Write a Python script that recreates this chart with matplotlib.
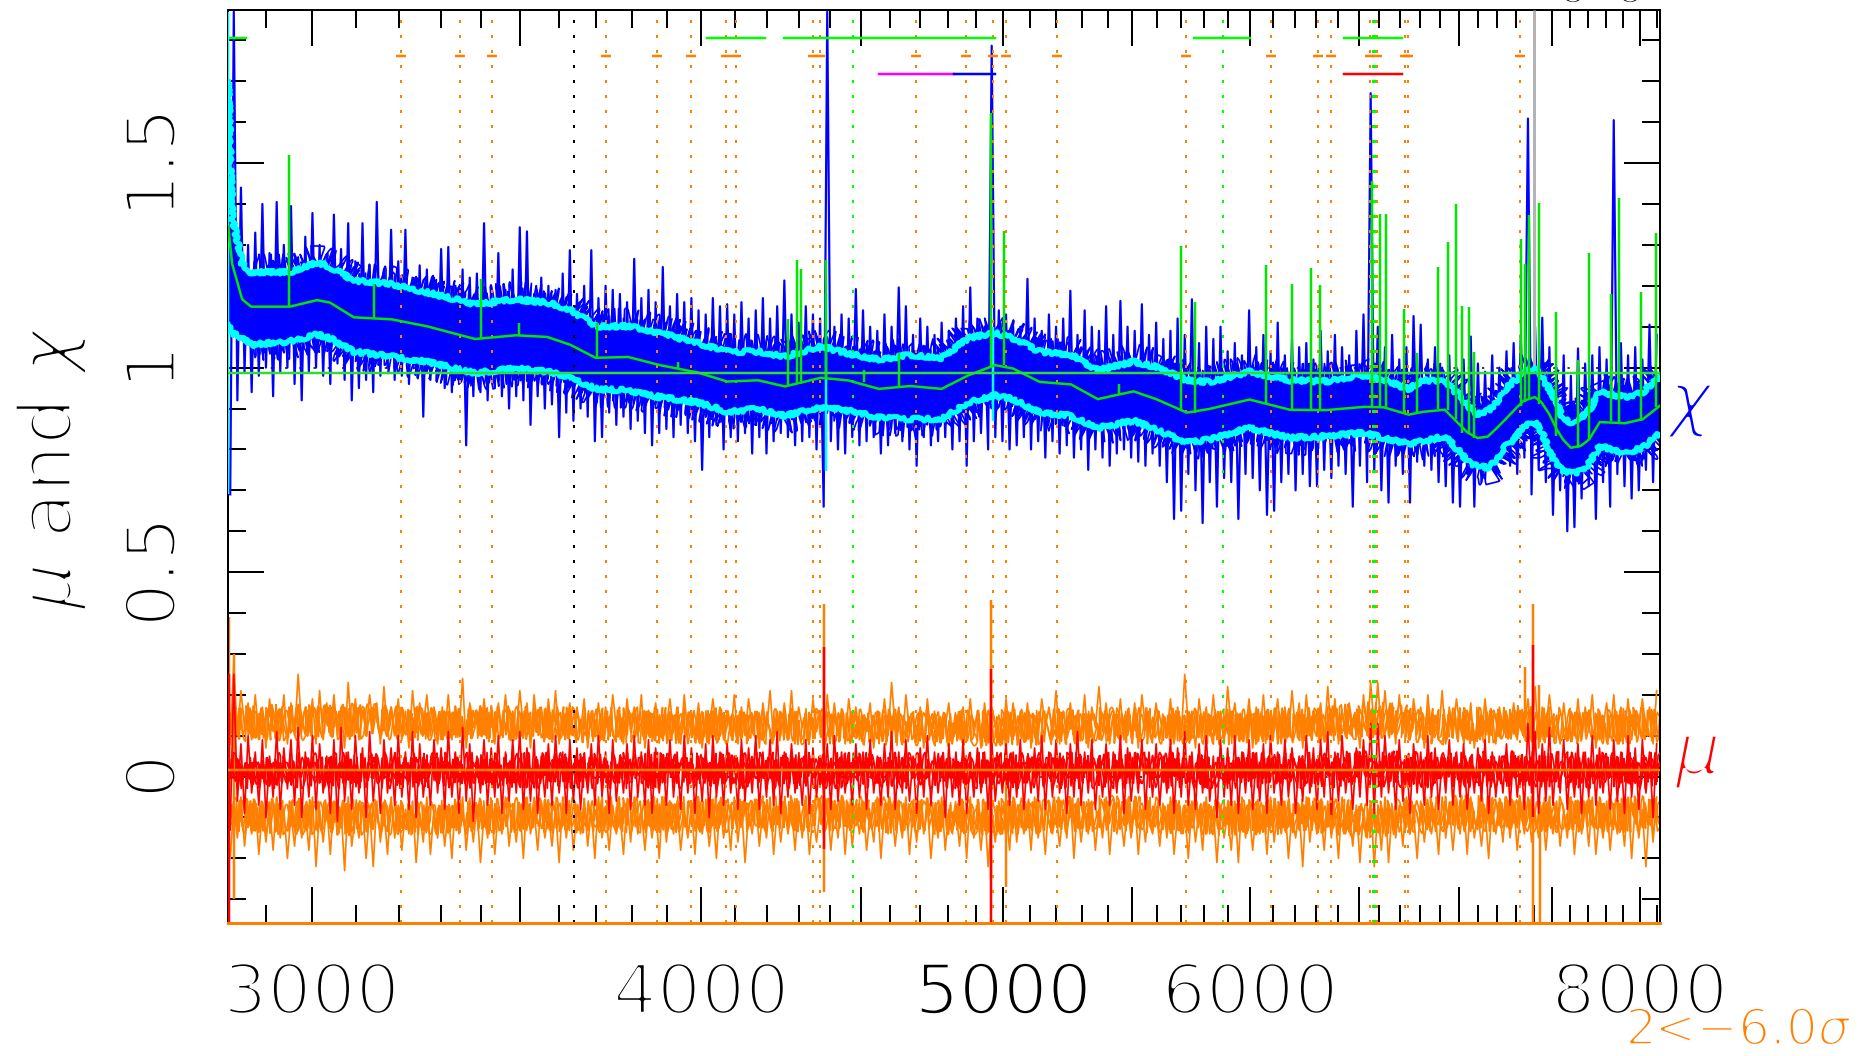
import numpy as np
import matplotlib
matplotlib.use("Agg")
import matplotlib.pyplot as plt
import matplotlib.patheffects as pe
from matplotlib.ticker import FixedLocator, FixedFormatter, NullFormatter

knot_wave = [2821, 2829, 2850, 2869, 2952, 3012, 3041, 3095, 3183, 3267, 3385, 3488, 3570, 3631,
             3700, 3790, 3880, 3990, 4077, 4172, 4255, 4369, 4457, 4561, 4668, 4777, 4872, 4969,
             5035, 5136, 5256, 5361, 5505, 5597, 5726, 5822, 5997, 6178, 6344, 6524, 6621, 6745,
             6817, 6927, 7002, 7045, 7096, 7149, 7191, 7245, 7306, 7342, 7403, 7440, 7483, 7519,
             7559, 7603, 7660, 7705, 7767, 7912, 8018, 8120]
chi_up = [1.70, 1.370, 1.254, 1.233, 1.233, 1.258, 1.246, 1.213, 1.204, 1.184, 1.155, 1.167, 1.159, 1.142,
          1.101, 1.101, 1.085, 1.060, 1.039, 1.039, 1.027, 1.052, 1.035, 1.019, 1.031, 1.024, 1.072, 1.085,
          1.072, 1.039, 1.031, 0.994, 1.014, 1.002, 0.969, 0.965, 0.990, 0.969, 0.966, 0.981, 0.969, 0.948,
          0.969, 0.965, 0.932, 0.907, 0.886, 0.894, 0.911, 0.948, 0.973, 0.990, 0.998, 0.977, 0.948, 0.919,
          0.874, 0.866, 0.878, 0.895, 0.940, 0.928, 0.940, 0.977]
chi_mean = [1.345, 1.254, 1.167, 1.149, 1.149, 1.165, 1.159, 1.123, 1.118, 1.101, 1.070, 1.079, 1.075, 1.056,
            1.024, 1.026, 1.006, 0.988, 0.966, 0.969, 0.954, 0.975, 0.969, 0.948, 0.955, 0.948, 0.981, 1.006,
            0.998, 0.965, 0.959, 0.923, 0.942, 0.923, 0.890, 0.899, 0.922, 0.897, 0.896, 0.904, 0.903, 0.885,
            0.892, 0.897, 0.861, 0.841, 0.828, 0.831, 0.849, 0.874, 0.903, 0.919, 0.928, 0.915, 0.886, 0.853,
            0.824, 0.804, 0.809, 0.824, 0.867, 0.864, 0.874, 0.907]
chi_lo = [1.105, 1.085, 1.072, 1.056, 1.064, 1.081, 1.072, 1.039, 1.027, 1.014, 0.987, 0.998, 0.990, 0.977,
          0.948, 0.944, 0.928, 0.915, 0.892, 0.899, 0.882, 0.903, 0.895, 0.878, 0.874, 0.874, 0.915, 0.932,
          0.923, 0.890, 0.882, 0.853, 0.870, 0.849, 0.816, 0.824, 0.853, 0.828, 0.832, 0.841, 0.828, 0.814,
          0.820, 0.832, 0.795, 0.770, 0.758, 0.756, 0.770, 0.808, 0.832, 0.856, 0.866, 0.845, 0.795, 0.766,
          0.746, 0.742, 0.746, 0.766, 0.808, 0.791, 0.804, 0.841]

# centres of the mu error bands and of mu itself
band_wave = [2821, 3100, 3500, 3900, 4400, 4900, 5400, 5900, 6300, 6570, 6900, 7350, 7700, 8120]
sigma_hi_mid = [0.130, 0.135, 0.128, 0.125, 0.122, 0.118, 0.125, 0.122, 0.125, 0.140, 0.122, 0.130, 0.120, 0.128]
sigma_lo_mid = [-0.095, -0.100, -0.095, -0.093, -0.090, -0.100, -0.090, -0.100, -0.095, -0.105, -0.090, -0.090, -0.095, -0.090]
mu_mid = [0.015, 0.015, 0.015, 0.015, 0.015, 0.015, 0.015, 0.015, 0.015, 0.020, 0.015, 0.020, 0.015, 0.015]

# ── Noisy spectra: lower and upper excursions on a log spaced grid ───────────
chi_top = [1.87, 1.44, 1.30, 1.33, 1.40, 1.28, 1.405, 1.30, 1.395, 1.27,
           1.32, 1.378, 1.30, 1.27, 1.374, 1.29, 1.353, 1.26, 1.353, 1.25,
           1.405, 1.24, 1.337, 1.26, 1.337, 1.22, 1.25, 1.24, 1.22, 1.29,
           1.295, 1.20, 1.24, 1.22, 1.23, 1.353, 1.20, 1.28, 1.19, 1.24,
           1.343, 1.333, 1.18, 1.22, 1.20, 1.19, 1.23, 1.287, 1.18, 1.20,
           1.287, 1.17, 1.20, 1.19, 1.18, 1.16, 1.266, 1.17, 1.19, 1.16,
           1.246, 1.15, 1.18, 1.16, 1.17, 1.14, 1.13, 1.17, 1.15, 1.155,
           1.13, 1.16, 1.12, 1.14, 1.17, 1.12, 1.15, 1.213, 1.13, 1.11,
           1.15, 1.13, 1.12, 1.87, 1.10, 1.13, 1.12, 1.192, 1.14, 1.10,
           1.09, 1.13, 1.10, 1.196, 1.15, 1.08, 1.12, 1.10, 1.08, 1.11,
           1.09, 1.12, 1.15, 1.196, 1.12, 1.10, 1.787, 1.14, 1.13, 1.10,
           1.10, 1.217, 1.12, 1.09, 1.13, 1.10, 1.12, 1.188, 1.08, 1.14,
           1.10, 1.09, 1.15, 1.08, 1.163, 1.10, 1.09, 1.155, 1.08, 1.11,
           1.07, 1.09, 1.12, 1.08, 1.167, 1.06, 1.10, 1.07, 1.10, 1.04,
           1.06, 1.03, 1.14, 1.05, 1.08, 1.04, 1.11, 1.03, 1.07, 1.05,
           1.06, 1.02, 1.09, 1.04, 1.08, 1.05, 1.03, 1.09, 1.13, 1.671,
           1.10, 1.05, 1.08, 1.02, 1.05, 1.126, 1.105, 1.02, 1.05, 1.00,
           1.03, 1.00, 1.02, 1.076, 1.01, 0.99, 1.03, 1.00, 1.04, 1.06,
           1.08, 1.609, 1.10, 1.122, 1.05, 1.00, 1.03, 0.98, 1.047, 1.01,
           1.03, 1.05, 1.02, 1.605, 1.06, 1.03, 1.05, 1.02, 1.105, 1.08]
chi_bot = [0.69, 0.92, 0.99, 0.94, 0.98, 1.00, 0.93, 0.99, 1.00, 0.96,
           0.92, 0.99, 1.00, 0.98, 0.96, 1.01, 0.97, 0.92, 0.95, 0.97,
           0.94, 0.98, 1.00, 0.97, 0.98, 0.96, 0.99, 0.88, 0.97, 0.98,
           0.95, 0.94, 0.96, 0.81, 0.93, 0.94, 0.92, 0.95, 0.93, 0.90,
           0.93, 0.92, 0.86, 0.93, 0.90, 0.91, 0.83, 0.89, 0.87, 0.90,
           0.88, 0.82, 0.83, 0.89, 0.86, 0.88, 0.85, 0.87, 0.84, 0.81,
           0.84, 0.85, 0.83, 0.86, 0.84, 0.82, 0.75, 0.83, 0.86, 0.80,
           0.83, 0.82, 0.84, 0.79, 0.83, 0.79, 0.82, 0.84, 0.83, 0.81,
           0.82, 0.83, 0.80, 0.66, 0.82, 0.80, 0.79, 0.83, 0.81, 0.82,
           0.83, 0.79, 0.81, 0.84, 0.82, 0.80, 0.76, 0.83, 0.81, 0.82,
           0.83, 0.80, 0.82, 0.76, 0.82, 0.84, 0.80, 0.83, 0.82, 0.80,
           0.81, 0.83, 0.80, 0.82, 0.78, 0.82, 0.79, 0.81, 0.78, 0.80,
           0.75, 0.80, 0.78, 0.76, 0.79, 0.80, 0.78, 0.77, 0.76, 0.79,
           0.76, 0.72, 0.63, 0.65, 0.74, 0.70, 0.62, 0.72, 0.66, 0.73,
           0.72, 0.63, 0.74, 0.73, 0.70, 0.64, 0.65, 0.72, 0.74, 0.70,
           0.74, 0.71, 0.71, 0.75, 0.73, 0.76, 0.74, 0.66, 0.76, 0.72,
           0.75, 0.70, 0.67, 0.76, 0.74, 0.67, 0.77, 0.76, 0.75, 0.72,
           0.71, 0.67, 0.66, 0.74, 0.66, 0.72, 0.76, 0.74, 0.78, 0.76,
           0.74, 0.78, 0.69, 0.75, 0.72, 0.64, 0.70, 0.60, 0.61, 0.68,
           0.71, 0.63, 0.72, 0.66, 0.74, 0.71, 0.68, 0.70, 0.75, 0.72]
sigma_hi_top = [0.28, 0.21, 0.18, 0.20, 0.17, 0.19, 0.16, 0.20, 0.18, 0.25,
                0.17, 0.19, 0.21, 0.18, 0.20, 0.17, 0.23, 0.19, 0.16, 0.20,
                0.18, 0.22, 0.17, 0.19, 0.16, 0.21, 0.18, 0.20, 0.17, 0.16,
                0.20, 0.17, 0.24, 0.18, 0.16, 0.19, 0.17, 0.18, 0.20, 0.16,
                0.21, 0.18, 0.20, 0.17, 0.19, 0.21, 0.16, 0.18, 0.17, 0.19,
                0.16, 0.18, 0.17, 0.20, 0.15, 0.19, 0.17, 0.20, 0.16, 0.18,
                0.15, 0.19, 0.17, 0.20, 0.16, 0.18, 0.15, 0.19, 0.17, 0.16,
                0.20, 0.17, 0.19, 0.15, 0.18, 0.21, 0.16, 0.18, 0.21, 0.17,
                0.15, 0.19, 0.16, 0.20, 0.18, 0.16, 0.19, 0.17, 0.15, 0.18,
                0.16, 0.19, 0.23, 0.17, 0.20, 0.15, 0.17, 0.19, 0.16, 0.14,
                0.18, 0.15, 0.17, 0.19, 0.16, 0.18, 0.17, 0.15, 0.19, 0.18,
                0.16, 0.18, 0.15, 0.19, 0.17, 0.21, 0.16, 0.18, 0.15, 0.20,
                0.17, 0.22, 0.18, 0.15, 0.19, 0.16, 0.18, 0.20, 0.16, 0.18,
                0.15, 0.19, 0.17, 0.25, 0.16, 0.19, 0.17, 0.20, 0.16, 0.22,
                0.18, 0.15, 0.19, 0.17, 0.20, 0.16, 0.19, 0.17, 0.21, 0.18,
                0.20, 0.16, 0.18, 0.22, 0.19, 0.16, 0.18, 0.15, 0.20, 0.23,
                0.23, 0.21, 0.18, 0.20, 0.16, 0.19, 0.17, 0.20, 0.15, 0.21,
                0.17, 0.19, 0.15, 0.18, 0.16, 0.19, 0.15, 0.17, 0.14, 0.18,
                0.16, 0.19, 0.22, 0.17, 0.20, 0.15, 0.18, 0.16, 0.19, 0.17,
                0.20, 0.16, 0.18, 0.20, 0.17, 0.19, 0.16, 0.19, 0.17, 0.21]
sigma_hi_bot = [0.08, 0.10, 0.12, 0.09, 0.10, 0.07, 0.11, 0.10, 0.08, 0.10,
                0.12, 0.11, 0.08, 0.09, 0.10, 0.10, 0.07, 0.10, 0.09, 0.11,
                0.12, 0.08, 0.10, 0.10, 0.09, 0.07, 0.11, 0.12, 0.10, 0.08,
                0.10, 0.09, 0.11, 0.07, 0.12, 0.10, 0.10, 0.08, 0.11, 0.09,
                0.10, 0.12, 0.07, 0.11, 0.09, 0.10, 0.08, 0.12, 0.10, 0.11,
                0.07, 0.10, 0.09, 0.10, 0.12, 0.08, 0.11, 0.10, 0.07, 0.10,
                0.09, 0.12, 0.11, 0.08, 0.10, 0.10, 0.07, 0.11, 0.12, 0.09,
                0.10, 0.08, 0.10, 0.12, 0.07, 0.11, 0.09, 0.10, 0.10, 0.08,
                0.12, 0.09, 0.11, 0.06, 0.10, 0.10, 0.08, 0.12, 0.09, 0.11,
                0.07, 0.10, 0.10, 0.12, 0.08, 0.11, 0.09, 0.07, 0.10, 0.10,
                0.12, 0.08, 0.11, 0.09, 0.10, 0.07, 0.10, 0.12, 0.08, 0.11,
                0.10, 0.09, 0.07, 0.10, 0.12, 0.11, 0.08, 0.10, 0.09, 0.10,
                0.07, 0.12, 0.11, 0.08, 0.10, 0.09, 0.10, 0.07, 0.12, 0.11,
                0.09, 0.10, 0.08, 0.10, 0.12, 0.07, 0.11, 0.10, 0.09, 0.08,
                0.12, 0.10, 0.11, 0.07, 0.10, 0.09, 0.12, 0.08, 0.10, 0.11,
                0.07, 0.10, 0.12, 0.09, 0.10, 0.08, 0.11, 0.12, 0.07, 0.10,
                0.12, 0.10, 0.10, 0.08, 0.11, 0.09, 0.12, 0.07, 0.10, 0.10,
                0.08, 0.11, 0.12, 0.09, 0.07, 0.10, 0.10, 0.08, 0.12, 0.11,
                0.09, 0.12, 0.10, 0.07, 0.11, 0.12, 0.08, 0.10, 0.10, 0.09,
                0.11, 0.07, 0.12, 0.10, 0.08, 0.10, 0.09, 0.11, 0.12, 0.08]
mu_top = [0.25, 0.08, 0.10, 0.06, 0.09, 0.05, 0.11, 0.07, 0.09, 0.12,
          0.06, 0.10, 0.08, 0.05, 0.09, 0.12, 0.06, 0.10, 0.07, 0.11,
          0.05, 0.09, 0.07, 0.10, 0.06, 0.11, 0.08, 0.05, 0.09, 0.07,
          0.11, 0.06, 0.12, 0.08, 0.05, 0.09, 0.07, 0.10, 0.06, 0.09,
          0.11, 0.07, 0.09, 0.05, 0.08, 0.10, 0.06, 0.09, 0.07, 0.05,
          0.08, 0.10, 0.06, 0.09, 0.05, 0.08, 0.10, 0.06, 0.09, 0.07,
          0.05, 0.09, 0.06, 0.10, 0.07, 0.05, 0.08, 0.10, 0.06, 0.08,
          0.05, 0.09, 0.07, 0.10, 0.06, 0.09, 0.11, 0.06, 0.08, 0.05,
          0.09, 0.07, 0.05, 0.08, 0.10, 0.06, 0.05, 0.08, 0.06, 0.09,
          0.05, 0.08, 0.11, 0.06, 0.09, 0.05, 0.07, 0.10, 0.06, 0.05,
          0.08, 0.06, 0.09, 0.05, 0.07, 0.06, 0.09, 0.05, 0.08, 0.06,
          0.09, 0.05, 0.07, 0.10, 0.06, 0.09, 0.05, 0.08, 0.11, 0.06,
          0.09, 0.05, 0.08, 0.06, 0.10, 0.07, 0.05, 0.09, 0.06, 0.08,
          0.05, 0.09, 0.07, 0.11, 0.06, 0.08, 0.10, 0.05, 0.09, 0.07,
          0.10, 0.06, 0.09, 0.05, 0.08, 0.10, 0.06, 0.09, 0.07, 0.05,
          0.10, 0.07, 0.09, 0.11, 0.06, 0.10, 0.05, 0.07, 0.09, 0.13,
          0.13, 0.10, 0.06, 0.09, 0.05, 0.08, 0.06, 0.10, 0.07, 0.05,
          0.09, 0.06, 0.08, 0.05, 0.07, 0.09, 0.06, 0.05, 0.08, 0.06,
          0.05, 0.13, 0.11, 0.08, 0.12, 0.06, 0.09, 0.05, 0.08, 0.06,
          0.10, 0.07, 0.05, 0.09, 0.06, 0.10, 0.07, 0.09, 0.06, 0.08]
mu_bot = [-0.13, -0.06, -0.09, -0.04, -0.07, -0.10, -0.05, -0.08, -0.03, -0.07,
          -0.10, -0.05, -0.08, -0.04, -0.09, -0.11, -0.06, -0.08, -0.04, -0.10,
          -0.06, -0.09, -0.04, -0.07, -0.05, -0.08, -0.10, -0.05, -0.07, -0.04,
          -0.08, -0.05, -0.09, -0.06, -0.11, -0.04, -0.07, -0.05, -0.09, -0.06,
          -0.04, -0.08, -0.06, -0.09, -0.05, -0.07, -0.04, -0.09, -0.06, -0.08,
          -0.04, -0.07, -0.05, -0.09, -0.06, -0.04, -0.08, -0.05, -0.07, -0.09,
          -0.04, -0.07, -0.05, -0.08, -0.04, -0.09, -0.06, -0.10, -0.05, -0.07,
          -0.04, -0.08, -0.06, -0.04, -0.08, -0.05, -0.07, -0.09, -0.05, -0.04,
          -0.07, -0.09, -0.05, -0.04, -0.08, -0.06, -0.04, -0.07, -0.05, -0.08,
          -0.04, -0.07, -0.05, -0.08, -0.04, -0.06, -0.09, -0.05, -0.07, -0.04,
          -0.10, -0.05, -0.07, -0.09, -0.05, -0.04, -0.08, -0.06, -0.04, -0.07,
          -0.05, -0.08, -0.04, -0.06, -0.08, -0.05, -0.04, -0.09, -0.05, -0.07,
          -0.04, -0.08, -0.05, -0.07, -0.04, -0.09, -0.06, -0.04, -0.08, -0.05,
          -0.07, -0.04, -0.09, -0.05, -0.07, -0.08, -0.04, -0.06, -0.10, -0.05,
          -0.07, -0.09, -0.04, -0.08, -0.06, -0.09, -0.04, -0.07, -0.05, -0.09,
          -0.06, -0.04, -0.08, -0.05, -0.10, -0.06, -0.04, -0.08, -0.05, -0.07,
          -0.09, -0.05, -0.04, -0.08, -0.06, -0.09, -0.04, -0.07, -0.05, -0.08,
          -0.04, -0.07, -0.05, -0.08, -0.04, -0.06, -0.09, -0.05, -0.04, -0.07,
          -0.05, -0.08, -0.04, -0.09, -0.06, -0.07, -0.04, -0.08, -0.05, -0.09,
          -0.05, -0.07, -0.04, -0.08, -0.06, -0.09, -0.05, -0.08, -0.04, -0.10]
sigma_lo_top = [-0.07, -0.05, -0.08, -0.06, -0.08, -0.07, -0.05, -0.08, -0.09, -0.06,
                -0.08, -0.05, -0.08, -0.07, -0.06, -0.08, -0.05, -0.09, -0.07, -0.08,
                -0.06, -0.08, -0.05, -0.07, -0.08, -0.06, -0.09, -0.05, -0.08, -0.07,
                -0.08, -0.06, -0.05, -0.08, -0.07, -0.09, -0.06, -0.08, -0.05, -0.08,
                -0.07, -0.05, -0.08, -0.06, -0.09, -0.08, -0.05, -0.07, -0.08, -0.06,
                -0.08, -0.05, -0.08, -0.07, -0.09, -0.06, -0.05, -0.08, -0.08, -0.07,
                -0.05, -0.08, -0.06, -0.09, -0.07, -0.05, -0.08, -0.08, -0.06, -0.08,
                -0.05, -0.07, -0.09, -0.06, -0.08, -0.05, -0.08, -0.07, -0.08, -0.06,
                -0.05, -0.09, -0.08, -0.06, -0.08, -0.05, -0.07, -0.08, -0.06, -0.09,
                -0.05, -0.08, -0.07, -0.08, -0.05, -0.08, -0.06, -0.07, -0.09, -0.05,
                -0.08, -0.08, -0.06, -0.05, -0.08, -0.07, -0.09, -0.06, -0.08, -0.05,
                -0.08, -0.07, -0.05, -0.08, -0.06, -0.09, -0.08, -0.05, -0.07, -0.08,
                -0.06, -0.08, -0.05, -0.08, -0.09, -0.07, -0.05, -0.08, -0.06, -0.08,
                -0.07, -0.05, -0.09, -0.08, -0.06, -0.08, -0.05, -0.08, -0.07, -0.09,
                -0.06, -0.05, -0.08, -0.08, -0.07, -0.05, -0.08, -0.06, -0.09, -0.08,
                -0.05, -0.07, -0.08, -0.06, -0.08, -0.05, -0.09, -0.07, -0.08, -0.06,
                -0.08, -0.05, -0.08, -0.07, -0.05, -0.09, -0.06, -0.08, -0.08, -0.05,
                -0.07, -0.08, -0.06, -0.05, -0.09, -0.08, -0.07, -0.08, -0.05, -0.06,
                -0.08, -0.05, -0.09, -0.07, -0.08, -0.06, -0.08, -0.05, -0.08, -0.07,
                -0.05, -0.09, -0.06, -0.08, -0.08, -0.05, -0.07, -0.08, -0.06, -0.05]
sigma_lo_bot = [-0.20, -0.15, -0.17, -0.14, -0.19, -0.16, -0.18, -0.15, -0.20, -0.17,
                -0.15, -0.18, -0.22, -0.16, -0.19, -0.14, -0.23, -0.17, -0.15, -0.20,
                -0.22, -0.16, -0.19, -0.15, -0.18, -0.14, -0.21, -0.16, -0.19, -0.15,
                -0.17, -0.20, -0.14, -0.18, -0.16, -0.21, -0.15, -0.19, -0.14, -0.17,
                -0.16, -0.20, -0.14, -0.18, -0.15, -0.17, -0.21, -0.15, -0.18, -0.14,
                -0.17, -0.20, -0.15, -0.18, -0.14, -0.19, -0.16, -0.14, -0.18, -0.15,
                -0.20, -0.16, -0.14, -0.18, -0.15, -0.19, -0.14, -0.17, -0.20, -0.15,
                -0.18, -0.16, -0.21, -0.14, -0.17, -0.15, -0.19, -0.16, -0.14, -0.18,
                -0.15, -0.19, -0.16, -0.14, -0.18, -0.15, -0.19, -0.17, -0.14, -0.18,
                -0.16, -0.20, -0.14, -0.17, -0.15, -0.19, -0.16, -0.14, -0.20, -0.15,
                -0.18, -0.14, -0.17, -0.20, -0.15, -0.18, -0.22, -0.16, -0.14, -0.18,
                -0.16, -0.14, -0.18, -0.15, -0.19, -0.14, -0.17, -0.15, -0.20, -0.16,
                -0.14, -0.18, -0.15, -0.19, -0.14, -0.17, -0.15, -0.19, -0.16, -0.14,
                -0.17, -0.15, -0.19, -0.14, -0.20, -0.16, -0.18, -0.14, -0.21, -0.15,
                -0.18, -0.21, -0.15, -0.18, -0.14, -0.19, -0.16, -0.14, -0.20, -0.15,
                -0.22, -0.16, -0.14, -0.18, -0.15, -0.20, -0.14, -0.17, -0.21, -0.15,
                -0.22, -0.18, -0.21, -0.15, -0.17, -0.14, -0.20, -0.16, -0.14, -0.19,
                -0.15, -0.18, -0.14, -0.19, -0.15, -0.17, -0.20, -0.14, -0.16, -0.15,
                -0.18, -0.14, -0.16, -0.15, -0.18, -0.14, -0.17, -0.15, -0.19, -0.14,
                -0.17, -0.19, -0.15, -0.18, -0.14, -0.17, -0.20, -0.15, -0.22, -0.16]

# ── Isolated features ────────────────────────────────────────────────────────
green_spike_wave = [2950, 3141, 3400, 3497, 3704, 3932, 4265, 4294, 4307, 4387, 4512, 4630, 4956, 5004,
                    5444, 5699, 5758, 6068, 6186, 6274, 6315, 6566, 6602, 6631, 6720, 6785, 6891, 6942,
                    6983, 7014, 7051, 7077, 7329, 7348, 7370, 7425, 7522, 7642, 7705, 7831, 7877, 8006, 8096]
green_spike_top = [1.521, 1.204, 1.217, 1.109, 1.109, 1.014, 1.118, 1.262, 1.242, 1.262, 0.994, 1.035, 1.622, 1.333,
                   0.960, 1.297, 1.161, 1.252, 1.204, 1.244, 1.203, 1.457, 1.375, 1.375, 1.143, 1.035, 1.246, 1.308,
                   1.399, 1.151, 1.147, 1.039, 1.314, 1.254, 1.374, 1.403, 1.136, 1.019, 1.280, 1.180, 1.415, 1.186, 1.330]
green_spike_base = [1.149, 1.119, 1.070, 1.079, 1.027, 0.998, 0.954, 0.961, 0.961, 0.975, 0.965, 0.955, 1.004, 1.006,
                    0.932, 0.894, 0.890, 0.911, 0.897, 0.896, 0.896, 0.904, 0.903, 0.903, 0.886, 0.890, 0.900, 0.897,
                    0.874, 0.841, 0.837, 0.828, 0.907, 0.915, 0.923, 0.911, 0.832, 0.804, 0.824, 0.870, 0.867, 0.870, 0.903]
cyan_spike_wave = [2821, 4385, 4962]
cyan_spike_top = [1.87, 1.18, 1.10]
cyan_spike_bot = [0.69, 0.746, 0.87]
red_spike_wave = [2822, 4380, 4956, 7393]
red_spike_top = [0.25, 0.316, 0.262, 0.322]
red_spike_bot = [-0.3587, -0.176, -0.3587, -0.10]
orange_spike_wave = [2822, 2832, 4380, 4956, 5010, 7348, 7393, 7425, 7433]
orange_spike_top = [0.39, 0.30, 0.421, 0.432, 0.10, 0.267, 0.421, 0.225, -0.10]
orange_spike_bot = [-0.10, -0.30, -0.283, -0.25, -0.271, 0.10, -0.3587, 0.10, -0.3587]

orange_lines = [3205, 3347, 3427, 3729, 3871, 3969, 4075, 4104, 4343, 4366, 4689, 4865, 4963, 5010, 5203,
                5723, 6091, 6306, 6370, 6555, 6591, 6724, 6740, 7325]
green_lines = [4475, 5879, 6568, 6577]
black_lines = [3641]

green_bars = [(2821, 2859), (4018, 4194), (4251, 4969), (5754, 6001), (6429, 6709)]
magenta_bars = [(4561, 4821)]
blue_bars = [(4821, 4969)]
red_bars = [(6429, 6709)]

x_major = [3000, 3500, 4000, 4500, 5000, 5500, 6000, 6500, 7000, 7500, 8000]
x_labels = ["3000", "", "4000", "", "5000", "", "6000", "", "", "", "8000"]
x_minor = [2900, 3100, 3200, 3300, 3400, 3600, 3700, 3800, 3900, 4100, 4200, 4300, 4400, 4600, 4700, 4800, 4900,
           5100, 5200, 5300, 5400, 5600, 5700, 5800, 5900, 6100, 6200, 6300, 6400, 6600, 6700, 6800, 6900,
           7100, 7200, 7300, 7400, 7600, 7700, 7800, 7900, 8100]
y_major = [0, 0.5, 1, 1.5]
y_labels = ["0", "0.5", "1", "1.5"]
y_minor = [-0.3, -0.2, -0.1, 0.1, 0.2, 0.3, 0.4, 0.6, 0.7, 0.8, 0.9, 1.1, 1.2, 1.3, 1.4, 1.6, 1.7, 1.8]

BLUE, CYAN, GREEN = "#0000ff", "#00ffff", "#00e600"
ORANGE, RED = "#ff8000", "#ff0000"
PX = 0.72  # points per pixel at dpi 100
DOT = (0, (1.5, 6))


def zigzag(low, high):
    """Walk down and up through the samples, the way a noisy spectrum does."""
    wave = np.geomspace(2825, 8100, 2 * len(low))
    return wave, np.column_stack([low, high]).ravel()


def fuzz(wave, curve, colour, scale, length, zorder):
    """Line style only: matplotlib's sketch filter gives a curve its hairy edge."""
    line, = ax.plot(wave, curve, color=colour, lw=1.7 * PX, zorder=zorder)
    line.set_sketch_params(scale=scale, length=length, randomness=5)


def thin(size):
    """White outline eats into the glyph, gives the hairline look of the original."""
    return [pe.Stroke(linewidth=size, foreground="white")]


plt.rcParams["mathtext.fontset"] = "dejavusans"

fig = plt.figure(figsize=(18.65, 10.56), dpi=100)
ax = fig.add_axes([228.3 / 1865, (1056 - 923.3) / 1056, (1660 - 228.3) / 1865, (923.3 - 10) / 1056])
ax.set_xscale("log")
ax.set_xlim(2821, 8120)
ax.set_ylim(-0.3587, 1.8744)

ax.axhline(1.0, color="black", lw=1.5 * PX, ls=(0, (1.5, 8)), zorder=1)
ax.axhline(0.0, color="black", lw=1.5 * PX, ls=(0, (1.5, 8)), zorder=1)

# chi
ax.fill_between(knot_wave, chi_lo, chi_up, color=BLUE, lw=0, zorder=2)
ax.plot(*zigzag(chi_bot, chi_top), color=BLUE, lw=2.2 * PX, zorder=2)
for curve in (chi_up, chi_lo):
    # skip the steep rise at the blue end, the filter frays it
    fuzz(knot_wave[3:], curve[3:], BLUE, 12, 5, 2)
    fuzz(knot_wave[3:], curve[3:], BLUE, 18, 9, 2)

# mu and its error band
for mid in (sigma_hi_mid, sigma_lo_mid):
    fuzz(band_wave, mid, ORANGE, 12, 4, 2)
    fuzz(band_wave, mid, ORANGE, 15, 6, 2)
    fuzz(band_wave, mid, ORANGE, 18, 8, 2)
ax.plot(*zigzag(sigma_hi_bot, sigma_hi_top), color=ORANGE, lw=1.7 * PX, zorder=2)
ax.plot(*zigzag(sigma_lo_bot, sigma_lo_top), color=ORANGE, lw=1.7 * PX, zorder=2)
ax.vlines(orange_spike_wave, orange_spike_bot, orange_spike_top, color=ORANGE, lw=2.5 * PX, zorder=2)
fuzz(band_wave, mu_mid, RED, 8, 4, 3)
fuzz(band_wave, mu_mid, RED, 13, 5, 3)
fuzz(band_wave, mu_mid, RED, 18, 7, 3)
ax.plot(*zigzag(mu_bot, mu_top), color=RED, lw=1.7 * PX, zorder=3)
ax.vlines(red_spike_wave, red_spike_bot, red_spike_top, color=RED, lw=2.5 * PX, zorder=3)

# line markers
ax.vlines(orange_lines, -0.3587, 1.8744, color=ORANGE, lw=2 * PX, ls=DOT, zorder=4)
ax.vlines(green_lines, -0.3587, 1.8744, color="#00ff00", lw=2 * PX, ls=DOT, zorder=4)
ax.vlines(black_lines, -0.3587, 1.8744, color="black", lw=2 * PX, ls=DOT, zorder=4)
ax.vlines(7399, 0.995, 1.8744, color="#b4b4b4", lw=3 * PX, zorder=4)
ax.hlines([1.761] * len(orange_lines), [w / 1.0037 for w in orange_lines], [w * 1.0037 for w in orange_lines],
          color=ORANGE, lw=2.5 * PX, zorder=4)

for bars, value, colour in [(green_bars, 1.806, "#00ff00"), (magenta_bars, 1.718, "#ff00ff"),
                            (blue_bars, 1.718, BLUE), (red_bars, 1.718, RED)]:
    for start, stop in bars:
        ax.plot([start, stop], [value, value], color=colour, lw=2.5 * PX, zorder=4)

# smoothed curves on top, the cyan ones carry a little fuzz in the original
for curve in (chi_up, chi_lo):
    line, = ax.plot(knot_wave, curve, color=CYAN, lw=5 * PX, zorder=5, solid_joinstyle="round")
    line.set_sketch_params(scale=2.0, length=6, randomness=12)
ax.vlines(cyan_spike_wave, cyan_spike_bot, cyan_spike_top, color=CYAN, lw=2.5 * PX, zorder=5)
ax.vlines(green_spike_wave, green_spike_base, green_spike_top, color=GREEN, lw=2.5 * PX, zorder=6)
ax.plot(knot_wave, chi_mean, color=GREEN, lw=2.5 * PX, zorder=6, solid_joinstyle="round")
ax.axhline(0.988, color="#30dc30", lw=2.5 * PX, zorder=6)
ax.axhline(0.015, color=ORANGE, lw=2.5 * PX, zorder=6)

# axes
ax.xaxis.set_major_locator(FixedLocator(x_major))
ax.xaxis.set_major_formatter(FixedFormatter(x_labels))
ax.xaxis.set_minor_locator(FixedLocator(x_minor))
ax.xaxis.set_minor_formatter(NullFormatter())
ax.yaxis.set_major_locator(FixedLocator(y_major))
ax.yaxis.set_major_formatter(FixedFormatter(y_labels))
ax.yaxis.set_minor_locator(FixedLocator(y_minor))
ax.tick_params(which="major", direction="in", top=True, right=True, length=36 * PX, width=2 * PX)
ax.tick_params(which="minor", direction="in", top=True, right=True, length=18 * PX, width=2 * PX)
ax.tick_params(axis="x", which="major", labelsize=50, pad=27)
ax.tick_params(axis="y", which="major", labelsize=50, pad=28)

fig.canvas.draw()
for t in ax.get_xticklabels():
    t.set_path_effects(thin(2.3 if t.get_text() == "5000" else 3.0))
for t in ax.get_yticklabels():
    t.set_rotation(90)
    t.set_va("center")
    t.set_path_effects(thin(3.0))

for side in ax.spines.values():
    side.set_linewidth(2 * PX)
ax.spines["bottom"].set_color(ORANGE)
ax.spines["bottom"].set_linewidth(3 * PX)
ax.spines["bottom"].set_zorder(7)

label_kw = dict(ha="center", va="center")
fig.text(51 / 1865, 1 - 467 / 1056, r"$\mu$ and $\chi$", rotation=90, color="black", fontsize=54,
         path_effects=thin(3.2), **label_kw)
fig.text(1694 / 1865, 1 - 406 / 1056, r"$\chi$", color=BLUE, fontsize=52, path_effects=thin(2.8), **label_kw)
fig.text(1698 / 1865, 1 - 757 / 1056, r"$\mu$", color=RED, fontsize=52, path_effects=thin(2.8), **label_kw)
fig.text(1739 / 1865, 1 - 1031 / 1056, r"2<$-$6.0$\sigma$", color=ORANGE, fontsize=36,
         path_effects=thin(2.0), **label_kw)

# letters cut off by the top edge of the image
for px in (1573, 1630):
    fig.text(px / 1865, 1 - 3 / 1056, "o", color="black", fontsize=34, ha="center", va="baseline",
             path_effects=thin(2.2))

plt.savefig("out.png", dpi=100)
plt.close()
